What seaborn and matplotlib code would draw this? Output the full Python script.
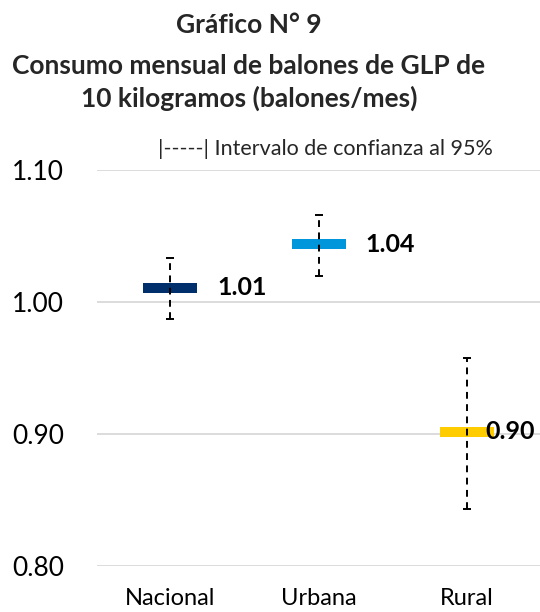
import numpy as np
import pandas as pd
import seaborn as sns
import matplotlib
matplotlib.use("Agg")
import matplotlib.pyplot as plt
from matplotlib.path import Path

# ---- data ----
categories = ["Nacional", "Urbana", "Rural"]
estimates = [1.0106, 1.0439, 0.9017]
ci_lower = [0.9869, 1.0195, 0.8427]
ci_upper = [1.0333, 1.0657, 0.9573]
colors = ["#002F6C", "#0096DB", "#FFCC00"]
yticks = [0.80, 0.90, 1.00, 1.10]

title_lines = ["Gráfico N° 9",
               "Consumo mensual de balones de GLP de",
               "10 kilogramos (balones/mes)"]
legend_text = "|-----| Intervalo de confianza al 95%"

sns.set_theme(style="white")
FONT = ["Lato", "DejaVu Sans"]
plt.rcParams["font.family"] = FONT

df = pd.DataFrame({"cat": categories, "est": estimates,
                   "lo": ci_lower, "hi": ci_upper})

fig = plt.figure(figsize=(5.4, 6.12), dpi=100)
ax = fig.add_axes([0.18, 0.0757, 0.82, 0.6465])

# rectangular dash marker
hh = 0.093
rect = Path([(-0.5, -hh), (0.5, -hh), (0.5, hh), (-0.5, hh), (-0.5, -hh)],
            [Path.MOVETO, Path.LINETO, Path.LINETO, Path.LINETO, Path.CLOSEPOLY])
sns.scatterplot(data=df, x="cat", y="est", hue="cat", palette=colors,
                marker=rect, s=1512, linewidth=0, legend=False, ax=ax, zorder=3)

xpos = np.arange(len(categories))
est = np.array(estimates)
eb = ax.errorbar(xpos, est, yerr=[est - np.array(ci_lower), np.array(ci_upper) - est],
                 fmt="none", ecolor="black", elinewidth=1.4, capsize=3,
                 capthick=1.4, zorder=4)
for lc in eb[2]:
    lc.set_linestyle((0, (3.5, 2.8)))

# data labels
offsets = [34, 34, 13]
for i, v in enumerate(estimates):
    ax.annotate(f"{v:.2f}", (xpos[i], v), xytext=(offsets[i], 0),
                textcoords="offset points", ha="left", va="center",
                fontsize=18, fontweight="bold", color="black", zorder=5)

ax.set_xlim(-0.49, 2.49)
ax.set_ylim(0.80, 1.10)
ax.set_yticks(yticks)
ax.set_yticklabels([f"{t:.2f}" for t in yticks])
ax.set_xlabel("")
ax.set_ylabel("")
ax.grid(axis="y", color="#D9D9D9", linewidth=1.3)
ax.grid(axis="x", visible=False)
for s in ax.spines.values():
    s.set_visible(False)
ax.tick_params(axis="y", labelsize=19, pad=24, length=0, colors="black")
ax.tick_params(axis="x", labelsize=17, pad=16, length=0, colors="black")
ax.set_axisbelow(True)

# title
fig.text(0.461, 1 - 33 / 612, title_lines[0], ha="center", va="baseline",
         fontsize=19, fontweight="bold")
fig.text(0.461, 1 - 74 / 612, title_lines[1], ha="center", va="baseline",
         fontsize=19, fontweight="bold")
fig.text(0.461, 1 - 107 / 612, title_lines[2], ha="center", va="baseline",
         fontsize=19, fontweight="bold")

fig.text(158 / 540, 1 - 155 / 612, legend_text, ha="left", va="baseline",
         fontsize=15.5)

fig.savefig("out.png", dpi=100)
